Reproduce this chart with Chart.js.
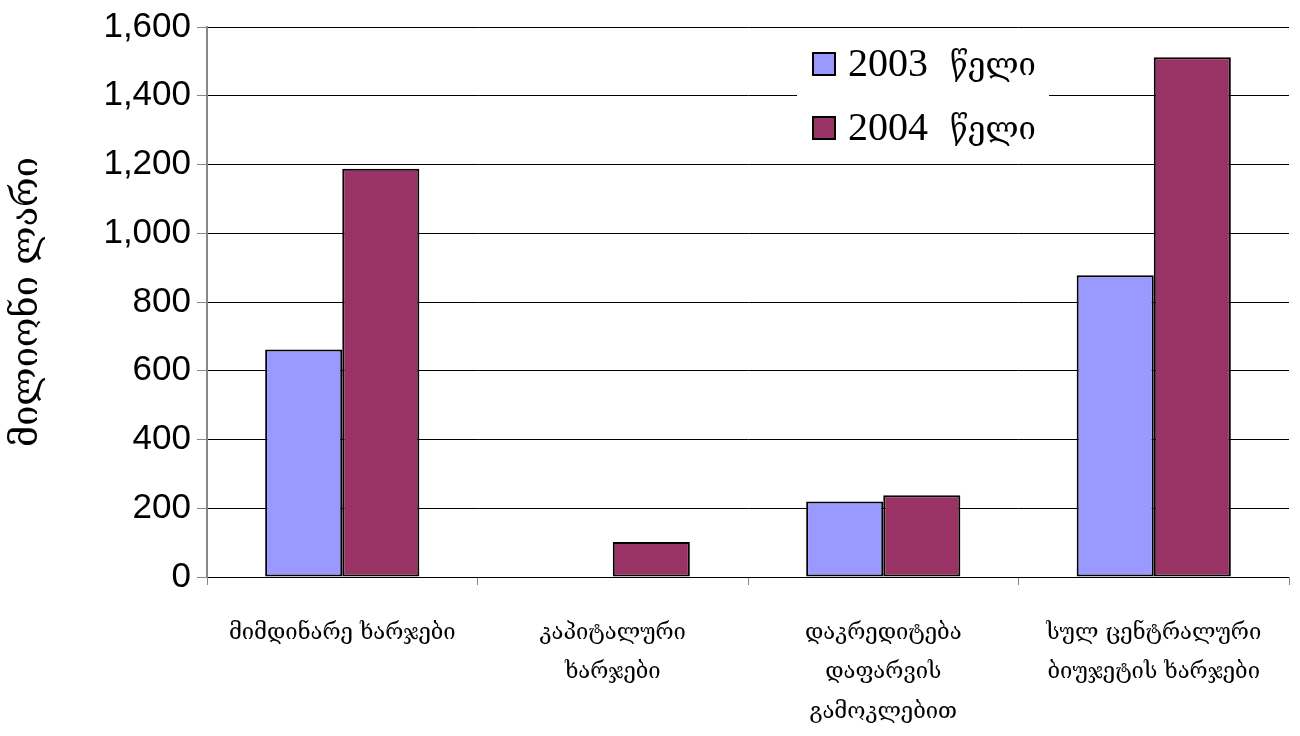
<!DOCTYPE html>
<html>
<head>
<meta charset="utf-8">
<script src="https://cdn.jsdelivr.net/npm/chart.js@4"></script>
<style>
  html, body { margin: 0; padding: 0; background: #fff; }
  #wrap { width: 1300px; height: 736px; }
</style>
</head>
<body>
<div id="wrap"><canvas id="chart" width="1300" height="736"></canvas></div>
<script>
// categories (multi-line labels) and values in million lari
var categories = [
    ['მიმდინარე ხარჯები'],
    ['კაპიტალური', 'ხარჯები'],
    ['დაკრედიტება', 'დაფარვის', 'გამოკლებით'],
    ['სულ ცენტრალური', 'ბიუჯეტის ხარჯები']
];
var seriesNames = ['2003 წელი', '2004 წელი'];
var values2003 = [662, 0, 220, 878];
var values2004 = [1188, 102, 238, 1512];
var yTicks = [0, 200, 400, 600, 800, 1000, 1200, 1400, 1600];
var yTitle = 'მილიონი ლარი';

var georgian = "'DejaVu Serif', 'DejaVu Sans', serif";

// legend drawn as a white box inside the plot, like the original
var boxLegend = {
    id: 'boxLegend',
    afterDraw: function(chart) {
        var ctx = chart.ctx;
        var a = chart.chartArea;
        var x0 = a.left + 590, y0 = a.top + 4;
        ctx.save();
        ctx.fillStyle = '#fff';
        ctx.fillRect(x0, y0, 252, 132);
        chart.data.datasets.forEach(function(ds, i) {
            var y = y0 + 33 + i * 64;
            ctx.fillStyle = ds.backgroundColor;
            ctx.fillRect(x0 + 16, y - 11, 22, 22);
            ctx.strokeStyle = '#000';
            ctx.lineWidth = 2;
            ctx.strokeRect(x0 + 16, y - 11, 22, 22);
            ctx.fillStyle = '#000';
            ctx.textBaseline = 'middle';
            ctx.font = "40px 'Liberation Serif', 'DejaVu Serif', serif";
            var parts = ds.label.split(' ');
            ctx.fillText(parts[0], x0 + 51, y + 1);
            ctx.font = "31px " + georgian;
            ctx.fillText(parts[1], x0 + 153, y + 3);
        });
        ctx.restore();
    }
};

var chart = new Chart(document.getElementById('chart'), {
    type: 'bar',
    data: {
        labels: categories,
        datasets: [
            { label: seriesNames[0], data: values2003, backgroundColor: '#9999FF',
              borderColor: '#000', borderWidth: 2, borderSkipped: false },
            { label: seriesNames[1], data: values2004, backgroundColor: '#993366',
              borderColor: '#000', borderWidth: 2, borderSkipped: false }
        ]
    },
    options: {
        responsive: false,
        animation: false,
        layout: { padding: { top: 27, right: 11, left: 0, bottom: 0 } },
        datasets: { bar: { categoryPercentage: 0.57, barPercentage: 1.0 } },
        plugins: {
            legend: { display: false },
            tooltip: { enabled: false }
        },
        scales: {
            x: {
                offset: true,
                grid: { offset: true, drawOnChartArea: false, drawTicks: true,
                        tickLength: 8, color: '#888', lineWidth: 1 },
                border: { display: false },
                ticks: { color: '#000', padding: 28, maxRotation: 0, autoSkip: false,
                         font: { family: georgian, size: 22, lineHeight: 1.8 } },
                afterFit: function(s) { s.height = 159; }
            },
            y: {
                min: 0, max: 1600,
                afterBuildTicks: function(s) { s.ticks = yTicks.map(function(v) { return { value: v }; }); },
                grid: { color: '#000', lineWidth: 1, tickLength: 10, tickColor: '#888' },
                border: { display: true, color: '#888', width: 2 },
                ticks: { color: '#000', padding: 6,
                         font: { family: "'Liberation Sans', Arial, sans-serif", size: 35 } },
                title: { display: true, text: yTitle, color: '#000', padding: { top: 6, bottom: 0 },
                         font: { family: georgian, size: 36 } },
                afterFit: function(s) { s.width = 207; }
            }
        }
    },
    plugins: [boxLegend]
});
</script>
</body>
</html>
